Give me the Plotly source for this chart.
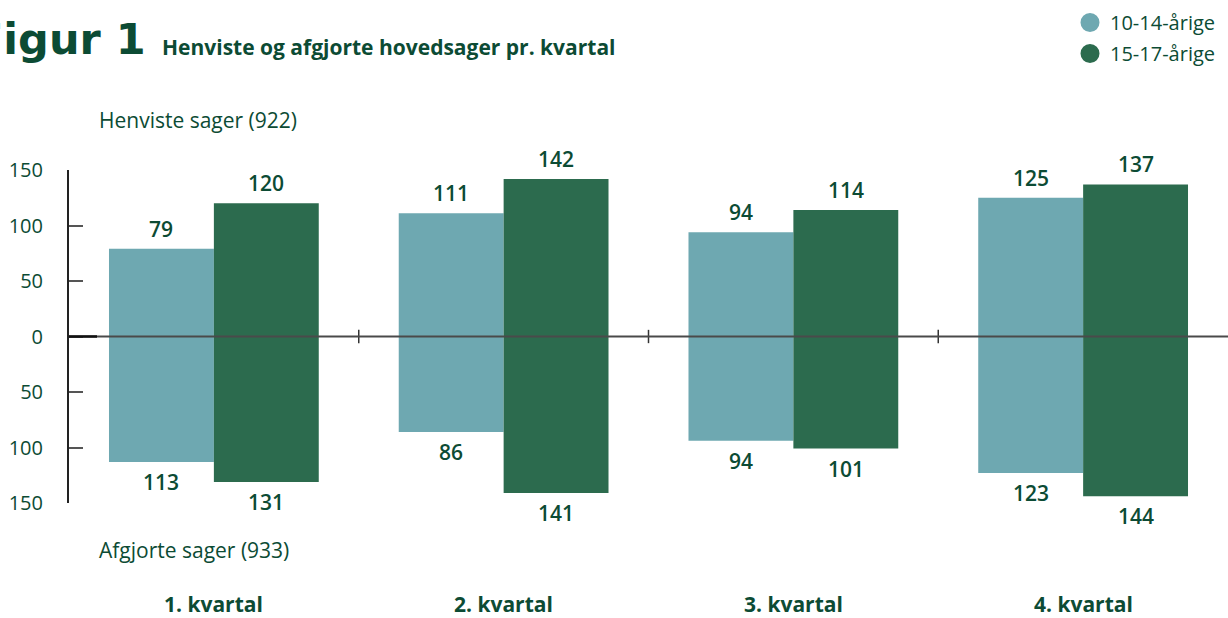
import plotly.graph_objects as go

quarters = ["1. kvartal", "2. kvartal", "3. kvartal", "4. kvartal"]
henviste_10_14 = [79, 111, 94, 125]
henviste_15_17 = [120, 142, 114, 137]
afgjorte_10_14 = [113, 86, 94, 123]
afgjorte_15_17 = [131, 141, 101, 144]
series_names = ["10-14-årige", "15-17-årige"]
ytick_vals = [-150, -100, -50, 0, 50, 100, 150]
ytick_text = ["150", "100", "50", "0", "50", "100", "150"]

LIGHT = "#6EA8B1"
DARK = "#2C6B4E"
TXT = "#0C4B34"
FONT = "Open Sans"

W, H = 1228, 618
ML, MR, MT, MB = 69, 0, 170, 115
PW = W - ML - MR
PH = H - MT - MB
BARGAP = 0.276


def px(x):
    return (x - ML) / PW


def py(y):
    return (H - MB - y) / PH


fig = go.Figure()
for name, up, down, col, grp in [
    (series_names[0], henviste_10_14, afgjorte_10_14, LIGHT, "a"),
    (series_names[1], henviste_15_17, afgjorte_15_17, DARK, "b"),
]:
    fig.add_trace(go.Bar(x=quarters, y=up, marker=dict(color=col, line_width=0),
                         offsetgroup=grp, showlegend=False, hoverinfo="skip"))
    fig.add_trace(go.Bar(x=quarters, y=[-v for v in down],
                         marker=dict(color=col, line_width=0),
                         offsetgroup=grp, showlegend=False, hoverinfo="skip"))
    fig.add_trace(go.Scatter(x=[None], y=[None], mode="markers", name=name,
                             legendgroup=name,
                             marker=dict(symbol="circle", size=16, color=col,
                                         line=dict(color=col, width=3))))

ann = []
half = PW / 4 * (1 - BARGAP) / 4
for vals, sign, shift in [
    (henviste_10_14, 1, -half), (henviste_15_17, 1, half),
    (afgjorte_10_14, -1, -half), (afgjorte_15_17, -1, half),
]:
    for q, v in zip(quarters, vals):
        ann.append(dict(x=q, y=sign * v, xref="x", yref="y", text=str(v),
                        showarrow=False, xshift=shift, yshift=sign * 20,
                        yanchor="middle",
                        font=dict(family=FONT, size=21, color=TXT, weight=600)))

for q in quarters:
    ann.append(dict(x=q, y=py(604), xref="x", yref="paper", text=q,
                    showarrow=False, yanchor="middle",
                    font=dict(family=FONT, size=21, color=TXT, weight=700)))

ann += [
    dict(x=px(148), y=py(39), xref="paper", yref="paper", text="Figur 1",
         xanchor="right", yanchor="middle", showarrow=False,
         font=dict(family="DejaVu Sans", size=43, color=TXT, weight=700)),
    dict(x=px(160), y=py(47), xref="paper", yref="paper",
         text="Henviste og afgjorte hovedsager pr. kvartal", xanchor="left",
         yanchor="middle", showarrow=False,
         font=dict(family=FONT, size=21, color=TXT, weight=700)),
    dict(x=px(97), y=py(120), xref="paper", yref="paper",
         text="Henviste sager (922)", xanchor="left", yanchor="middle",
         showarrow=False, font=dict(family=FONT, size=21, color=TXT)),
    dict(x=px(97), y=py(550), xref="paper", yref="paper",
         text="Afgjorte sager (933)", xanchor="left", yanchor="middle",
         showarrow=False, font=dict(family=FONT, size=21, color=TXT)),
]

shapes = []
for i in range(1, len(quarters)):
    shapes.append(dict(type="line", xref="x", yref="y", x0=i - 0.5, x1=i - 0.5,
                       y0=-6, y1=6, line=dict(color="#333", width=1.5)))
# zero line drawn above the bars
shapes.append(dict(type="line", xref="paper", yref="y", x0=0, x1=1, y0=0, y1=0,
                   layer="above", line=dict(color="#4a4a4a", width=2)))
shapes.append(dict(type="line", xref="paper", yref="y", x0=0, x1=px(97),
                   y0=0, y1=0, layer="above", line=dict(color="#111", width=2.5)))

fig.update_layout(
    width=W, height=H,
    margin=dict(l=ML, r=MR, t=MT, b=MB),
    paper_bgcolor="white", plot_bgcolor="white",
    barmode="group", bargap=BARGAP, bargroupgap=0,
    annotations=ann, shapes=shapes,
    legend=dict(x=px(1070), y=py(3), xanchor="left", yanchor="top",
                xref="paper", yref="paper",
                font=dict(family=FONT, size=20, color=TXT),
                itemwidth=30, tracegroupgap=2, bgcolor="rgba(0,0,0,0)"),
    xaxis=dict(showticklabels=False, showline=False, showgrid=False,
               zeroline=False, ticks="", range=[-0.5, 3.5]),
    yaxis=dict(range=[-150, 150], tickvals=ytick_vals, ticktext=ytick_text,
               ticks="inside", ticklen=14, tickwidth=2, tickcolor="#555",
               showline=True, linecolor="#222", linewidth=2,
               showgrid=False, zeroline=False, ticklabelstandoff=20,
               tickfont=dict(family=FONT, size=20, color=TXT)),
)

fig.write_html("out.html", config={"displayModeBar": False},
               post_script="document.body.style.margin='0px';")
